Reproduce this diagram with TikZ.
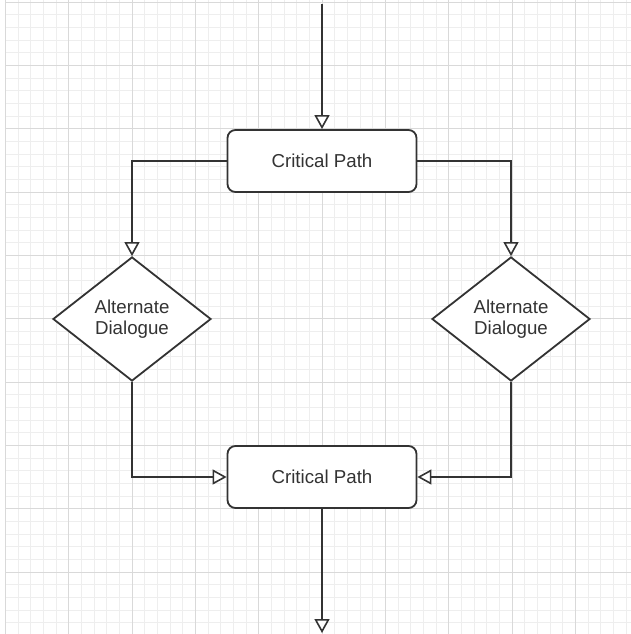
\documentclass[tikz,border=0pt]{standalone}
\usepackage{fontspec}
\setmainfont{Liberation Sans}
\usepackage{tikz}
\usetikzlibrary{arrows.meta, positioning, shapes.geometric, calc}

\definecolor{linegray}{HTML}{333333}
\definecolor{minorgrid}{HTML}{EEEEEE}
\definecolor{majorgrid}{HTML}{D9D9D9}

\begin{document}
\begin{tikzpicture}[
          x=1pt, y=-1pt,
          every node/.style={draw=linegray, line width=1.8pt, fill=white, text=linegray,
            font=\fontsize{18.7}{21}\selectfont, inner sep=0pt},
          pathbox/.style={rectangle, rounded corners=8pt, minimum width=189pt, minimum height=62pt},
          choice/.style={diamond, minimum width=158pt, minimum height=124pt, align=center},
          flow/.style={draw=linegray, line width=1.8pt,
            -{Triangle[length=14pt, width=15pt, fill=white, line width=1.6pt]}}
        ]
          \useasboundingbox[fill=white] (0,0) rectangle (631,634);
          % grid
          \foreach \i in {0,...,49} {
            \pgfmathsetmacro{\gx}{round(5+12.667*\i)+0.5}
            \pgfmathsetmacro{\gy}{round(1.7+12.667*\i)+0.5}
            \draw[minorgrid, line width=1.2pt] (\gx,0) -- (\gx,634);
            \draw[minorgrid, line width=1.2pt] (5,\gy) -- (631,\gy);
          }
          \foreach \i in {0,...,9} {
            \pgfmathsetmacro{\gx}{round(5+63.33*\i)+0.5}
            \pgfmathsetmacro{\gy}{round(1.7+63.33*\i)+0.5}
            \draw[majorgrid, line width=1.4pt] (\gx,0) -- (\gx,634);
            \draw[majorgrid, line width=1.4pt] (5,\gy) -- (631,\gy);
          }

          \coordinate (in) at (322,4);
          \node[pathbox] (crit1) at (322,161) {Critical Path};
          \node[choice] (alt1) at (132,319) {Alternate\\Dialogue};
          \node[choice] (alt2) at (511,319) {Alternate\\Dialogue};
          \node[pathbox] (crit2) at (322,477) {Critical Path};
          \coordinate (out) at (322,633);

          \draw[flow] (in) -- (crit1);
          \draw[flow] (crit1.west) -| (alt1.north);
          \draw[flow] (crit1.east) -| (alt2.north);
          \draw[flow] (alt1.south) |- (crit2.west);
          \draw[flow] (alt2.south) |- (crit2.east);
          \draw[flow] (crit2) -- (out);
        \end{tikzpicture}
\end{document}
